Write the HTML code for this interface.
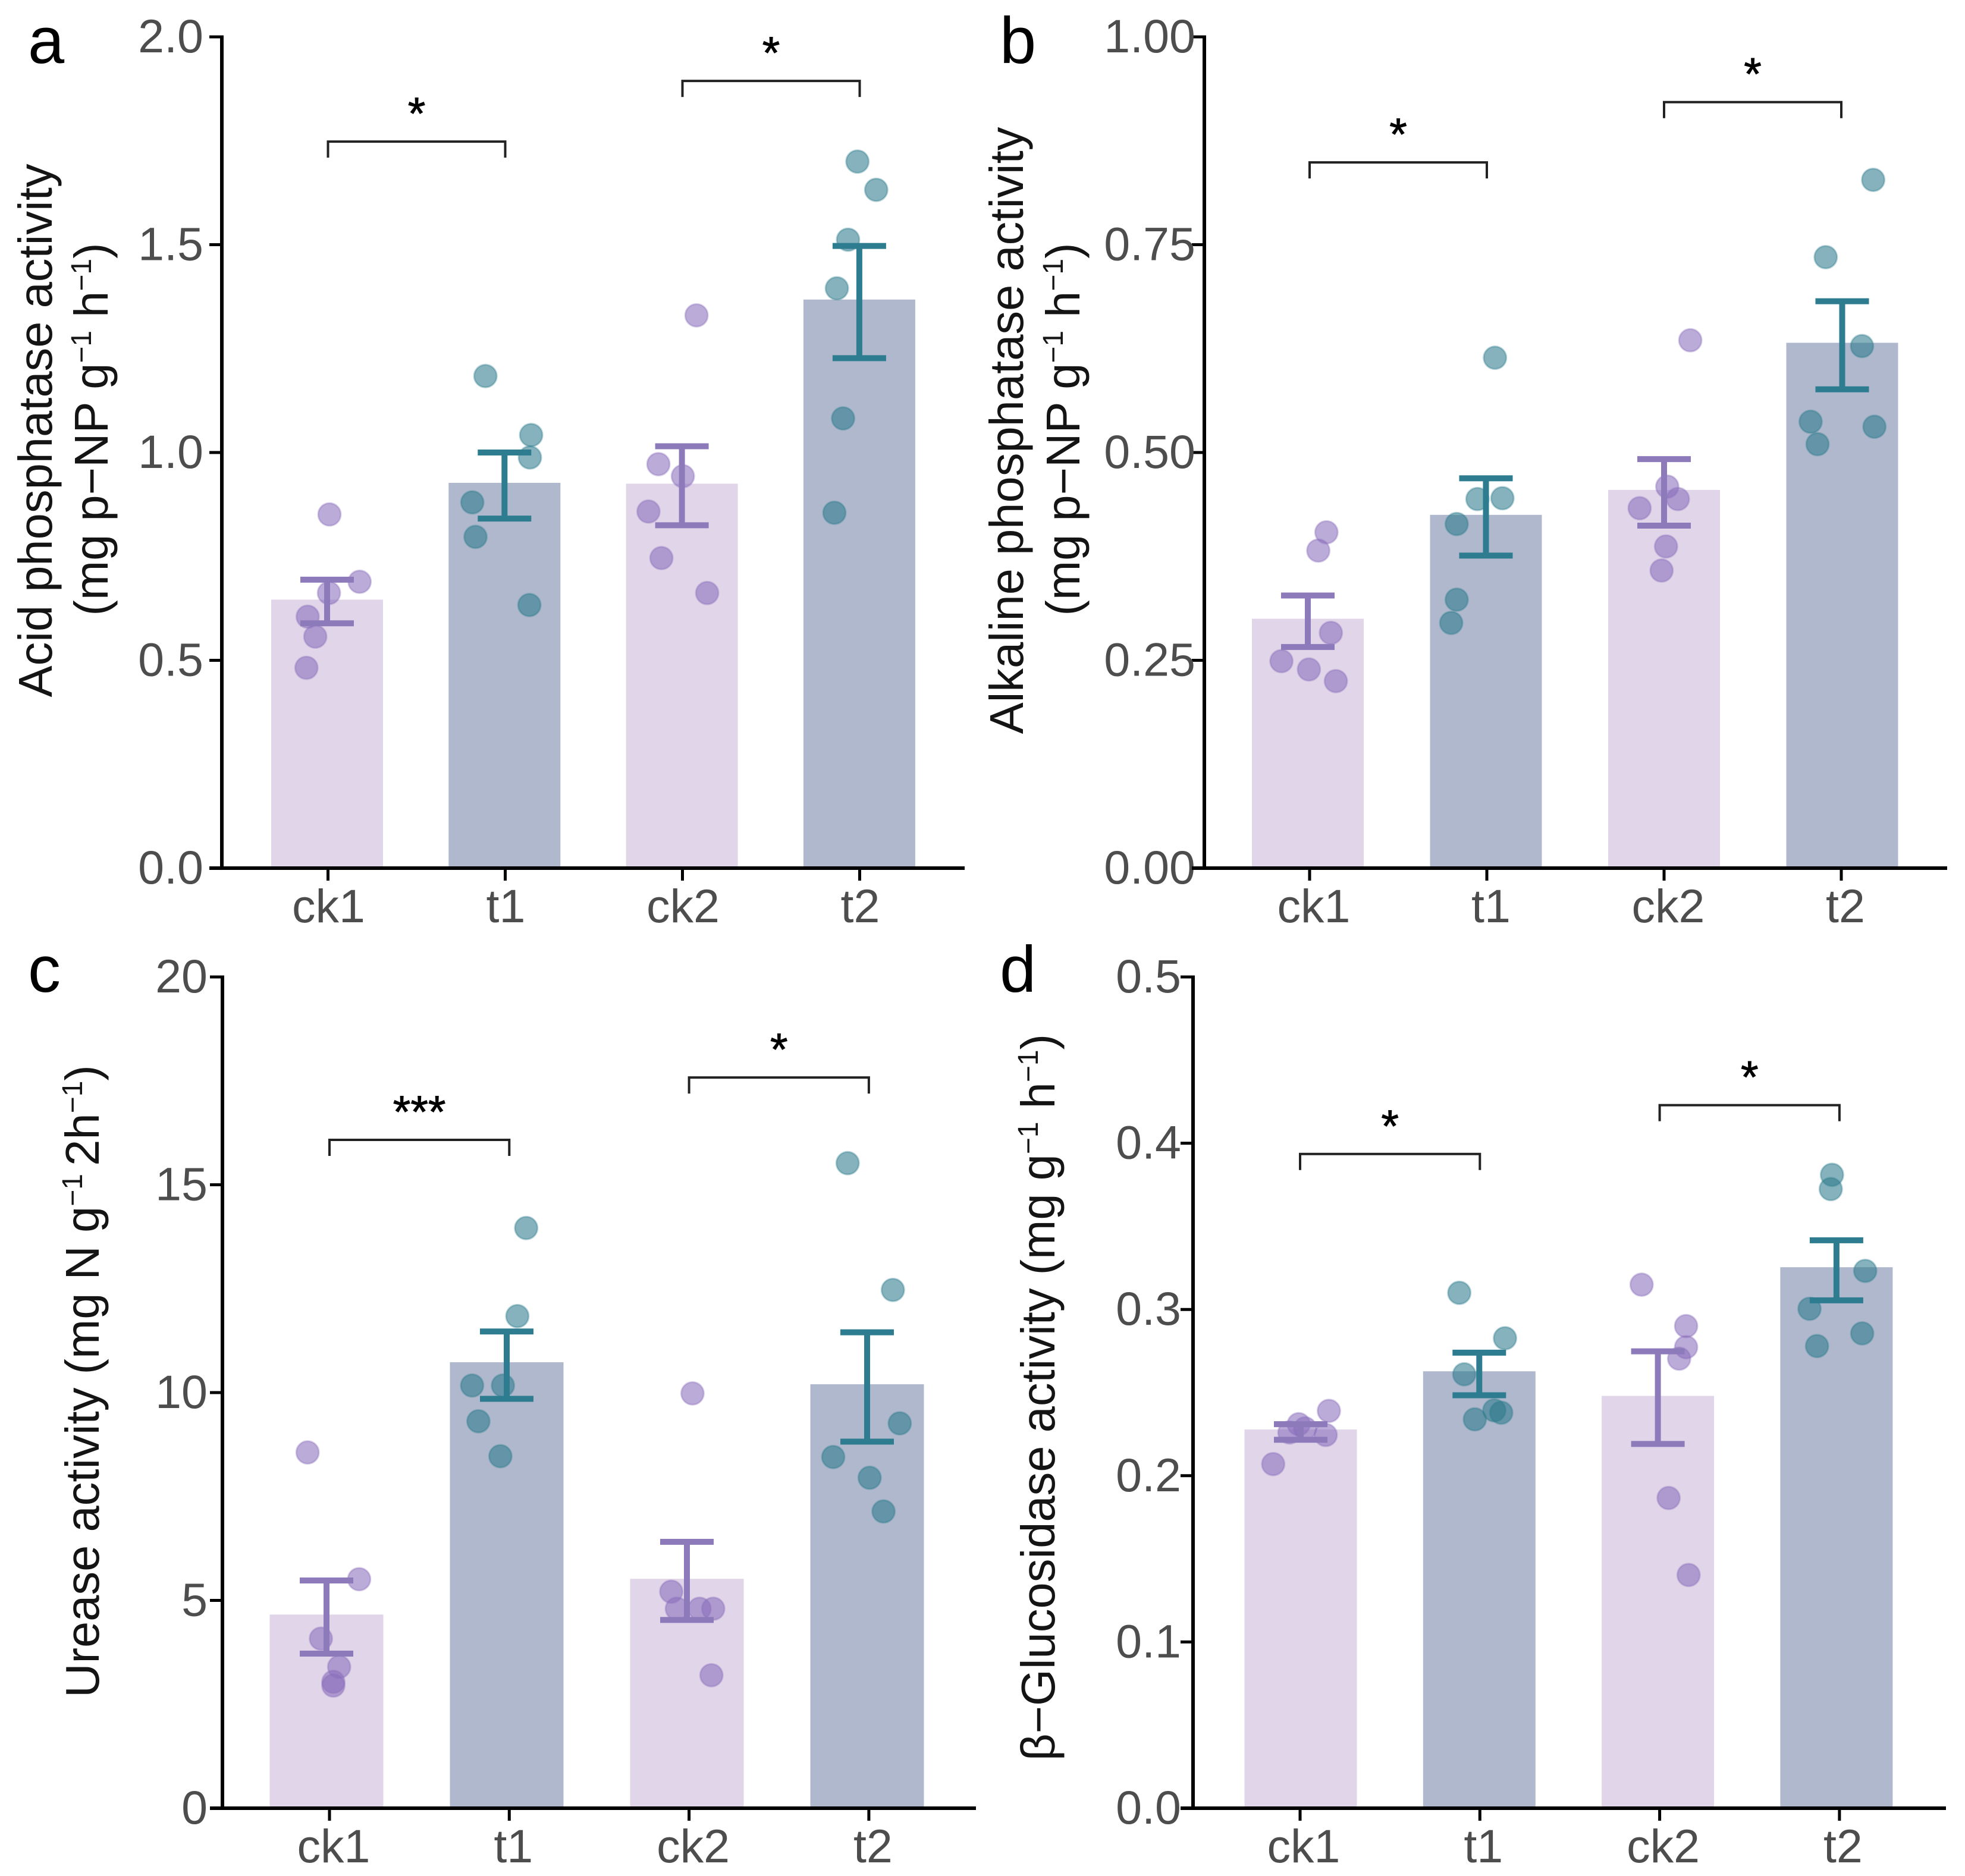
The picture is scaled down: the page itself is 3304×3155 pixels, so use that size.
<!DOCTYPE html>
<html lang="en">
<head>
<meta charset="utf-8">
<title>Soil enzyme activity bar charts</title>
<style>
html,body{margin:0;padding:0;background:#fff;}
svg{display:block;font-family:"Liberation Sans",sans-serif;}
.ytitle{font-size:79.5px;fill:#141414;text-anchor:middle;}
.plabel{font-size:110px;fill:#000;}
.tick{font-size:79px;fill:#4d4d4d;}
.star{font-size:76px;fill:#000;stroke:#000;stroke-width:1px;text-anchor:middle;}
</style>
</head>
<body>
<svg id="figure" xmlns="http://www.w3.org/2000/svg" width="3304" height="3155" viewBox="0 0 3304 3155">
<rect x="0" y="0" width="3304" height="3155" fill="#fff"/>
<g id="plots"></g>

<text class="plabel" x="47" y="106">a</text>
<text class="plabel" x="1681" y="106">b</text>
<text class="plabel" x="47" y="1668">c</text>
<text class="plabel" x="1681" y="1668">d</text>

<text class="ytitle" transform="translate(87 724) rotate(-90)">Acid phosphatase activity</text>
<text class="ytitle" transform="translate(181 722) rotate(-90)">(mg p−NP g<tspan font-size="48" dy="-28">−1</tspan><tspan dy="28"> h</tspan><tspan font-size="48" dy="-28">−1</tspan><tspan dy="28">)</tspan></text>
<text class="ytitle" transform="translate(1720 724) rotate(-90)">Alkaline phosphatase activity</text>
<text class="ytitle" transform="translate(1815 722) rotate(-90)">(mg p−NP g<tspan font-size="48" dy="-28">−1</tspan><tspan dy="28"> h</tspan><tspan font-size="48" dy="-28">−1</tspan><tspan dy="28">)</tspan></text>
<text class="ytitle" transform="translate(166 2323) rotate(-90)">Urease activity (mg N g<tspan font-size="48" dy="-28">−1 </tspan><tspan dy="28">2h</tspan><tspan font-size="48" dy="-28">−1</tspan><tspan dy="28">)</tspan></text>
<text class="ytitle" transform="translate(1773 2350) rotate(-90)">β−Glucosidase activity (mg g<tspan font-size="48" dy="-28">−1</tspan><tspan dy="28"> h</tspan><tspan font-size="48" dy="-28">−1</tspan><tspan dy="28">)</tspan></text>
</svg>

<script>
// ---------- shared categories ----------
const categories = ['ck1', 't1', 'ck2', 't2'];

// ---------- panel a: acid phosphatase ----------
const aTickLabels = ['0.0', '0.5', '1.0', '1.5', '2.0'];
const aMeans = [0.646, 0.927, 0.925, 1.368];
const aErrHigh = [0.694, 1.000, 1.015, 1.497];
const aErrLow = [0.589, 0.841, 0.825, 1.227];
const aPoints = [
  [0.851, 0.689, 0.662, 0.605, 0.557, 0.482],
  [1.184, 1.042, 0.988, 0.880, 0.797, 0.633],
  [1.330, 0.972, 0.943, 0.858, 0.746, 0.662],
  [1.700, 1.632, 1.512, 1.395, 1.082, 0.855]
];
const aJitter = [
  [0.010, 0.180, 0.007, -0.113, -0.070, -0.120],
  [-0.110, 0.148, 0.141, -0.184, -0.166, 0.138],
  [0.081, -0.134, 0.004, -0.190, -0.117, 0.141],
  [-0.011, 0.095, -0.064, -0.127, -0.092, -0.141]
];
const aBrackets = [1.748, 1.894];
const aStars = ['*', '*'];

// ---------- panel b: alkaline phosphatase ----------
const bTickLabels = ['0.00', '0.25', '0.50', '0.75', '1.00'];
const bMeans = [0.300, 0.425, 0.455, 0.632];
const bErrHigh = [0.328, 0.469, 0.492, 0.682];
const bErrLow = [0.266, 0.376, 0.412, 0.576];
const bPoints = [
  [0.404, 0.382, 0.283, 0.249, 0.239, 0.225],
  [0.614, 0.444, 0.445, 0.414, 0.323, 0.295],
  [0.635, 0.459, 0.444, 0.433, 0.387, 0.358],
  [0.828, 0.735, 0.628, 0.537, 0.531, 0.510]
];
const bJitter = [
  [0.095, 0.049, 0.120, -0.159, -0.004, 0.148],
  [0.046, -0.053, 0.088, -0.170, -0.170, -0.201],
  [0.148, 0.018, 0.078, -0.138, 0.011, -0.014],
  [0.180, -0.088, 0.117, -0.173, 0.187, -0.134]
];
const bBrackets = [0.849, 0.9215];
const bStars = ['*', '*'];

// ---------- panel c: urease ----------
const cTickLabels = ['0', '5', '10', '15', '20'];
const cMeans = [4.66, 10.73, 5.52, 10.20];
const cErrHigh = [5.48, 11.47, 6.41, 11.45];
const cErrLow = [3.72, 9.85, 4.53, 8.82];
const cPoints = [
  [8.56, 5.51, 4.08, 3.40, 3.04, 2.95],
  [13.96, 11.84, 10.17, 10.17, 9.31, 8.47],
  [9.98, 5.21, 4.80, 4.80, 4.80, 3.20],
  [15.52, 12.47, 9.26, 8.45, 7.95, 7.14]
];
const cJitter = [
  [-0.105, 0.181, -0.031, 0.070, 0.038, 0.038],
  [0.108, 0.059, -0.192, -0.021, -0.157, -0.035],
  [0.031, -0.087, -0.056, 0.070, 0.146, 0.136],
  [-0.108, 0.143, 0.181, -0.188, 0.014, 0.091]
];
const cBrackets = [16.08, 17.58];
const cStars = ['***', '*'];

// ---------- panel d: beta-glucosidase ----------
const dTickLabels = ['0.0', '0.1', '0.2', '0.3', '0.4', '0.5'];
const dMeans = [0.2278, 0.2628, 0.2480, 0.3254];
const dErrHigh = [0.2310, 0.2740, 0.2748, 0.3416];
const dErrLow = [0.2216, 0.2484, 0.2191, 0.3055];
const dPoints = [
  [0.2390, 0.2310, 0.2285, 0.2260, 0.2245, 0.2070],
  [0.3100, 0.2827, 0.2610, 0.2393, 0.2379, 0.2339],
  [0.3149, 0.2900, 0.2773, 0.2704, 0.1866, 0.1403],
  [0.3810, 0.3724, 0.3232, 0.3004, 0.2856, 0.2780]
];
const dJitter = [
  [0.158, -0.011, 0.025, -0.063, 0.140, -0.154],
  [-0.112, 0.144, -0.084, 0.084, 0.123, -0.025],
  [-0.091, 0.158, 0.158, 0.119, 0.060, 0.172],
  [-0.025, -0.032, 0.161, -0.151, 0.144, -0.109]
];
const dBrackets = [0.3935, 0.4229];
const dStars = ['*', '*'];

// ---------- panel layout ----------
const panels = [
  {id:'a', axisX:373, top:62, bottom:1460, right:1622, tick0:551.5, tickStep:298, bar0:550, barStep:298.3, barW:188,
   dot0:551, dotStep:298, yMax:2, yTicks:aTickLabels, labelGap:31, catDx:1,
   means:aMeans, hi:aErrHigh, lo:aErrLow, pts:aPoints, jit:aJitter, brackets:aBrackets, stars:aStars},
  {id:'b', axisX:2025, top:62, bottom:1460, right:3274, tick0:2202, tickStep:298, bar0:2199, barStep:299.5, barW:188,
   dot0:2202, dotStep:298, yMax:1, yTicks:bTickLabels, labelGap:15, catDx:7,
   means:bMeans, hi:bErrHigh, lo:bErrLow, pts:bPoints, jit:bJitter, brackets:bBrackets, stars:bStars},
  {id:'c', axisX:374, top:1643, bottom:3041, right:1641, tick0:554, tickStep:302.3, bar0:549, barStep:303, barW:191,
   dot0:549, dotStep:303, yMax:20, yTicks:cTickLabels, labelGap:25, catDx:7,
   means:cMeans, hi:cErrHigh, lo:cErrLow, pts:cPoints, jit:cJitter, brackets:cBrackets, stars:cStars},
  {id:'d', axisX:2006, top:1643, bottom:3041, right:3272, tick0:2186, tickStep:302.3, bar0:2187, barStep:300.3, barW:189,
   dot0:2187, dotStep:300.3, yMax:0.5, yTicks:dTickLabels, labelGap:20, catDx:6,
   means:dMeans, hi:dErrHigh, lo:dErrLow, pts:dPoints, jit:dJitter, brackets:dBrackets, stars:dStars}
];

const NS = 'http://www.w3.org/2000/svg';
const barColors = ['#e1d6e9', '#afb8cc'];
const errColors = ['#8d7aba', '#2e7c90'];
const dotColors = ['#8a6ebb', '#2c7a8c'];
const AXIS_W = 6;
const TICK_W = 5;

function make(parent, tag, attrs) {
  const n = document.createElementNS(NS, tag);
  for (const k in attrs) n.setAttribute(k, attrs[k]);
  parent.appendChild(n);
  return n;
}

const root = document.getElementById('plots');

panels.forEach(function (p) {
  const yScale = function (v) { return p.bottom - (v / p.yMax) * (p.bottom - p.top); };
  const xTick = function (i) { return p.tick0 + i * p.tickStep; };
  const xBar = function (i) { return p.bar0 + i * p.barStep; };
  const xDot = function (i, j) { return p.dot0 + i * p.dotStep + j * p.dotStep; };

  const g = make(root, 'g', {});
  
  

  // bars
  categories.forEach(function (cat, i) {
    const el = make(g, 'rect', {x: xBar(i) - p.barW / 2, y: yScale(p.means[i]), width: p.barW, height: p.bottom - yScale(p.means[i]), fill: barColors[i % 2]});
    
    
  });

  // jittered points
  categories.forEach(function (cat, i) {
    p.pts[i].forEach(function (v, k) {
      const el = make(g, 'circle', {cx: xDot(i, p.jit[i][k]), cy: yScale(v), r: 19, fill: dotColors[i % 2], 'fill-opacity': 0.58, stroke: dotColors[i % 2], 'stroke-opacity': 0.35, 'stroke-width': 3});
      
      
    });
  });

  // error bars
  categories.forEach(function (cat, i) {
    const cx = xBar(i);
    const yh = yScale(p.hi[i]);
    const yl = yScale(p.lo[i]);
    const eg = make(g, 'g', {stroke: errColors[i % 2], 'stroke-width': 10, fill: 'none'});
    
    
    make(eg, 'line', {x1: cx, x2: cx, y1: yh, y2: yl});
    make(eg, 'line', {x1: cx - 45, x2: cx + 45, y1: yh, y2: yh});
    make(eg, 'line', {x1: cx - 45, x2: cx + 45, y1: yl, y2: yl});
  });

  // y axis and ticks
  const yAxis = make(g, 'line', {x1: p.axisX, x2: p.axisX, y1: p.top - TICK_W / 2, y2: p.bottom + AXIS_W / 2, stroke: '#000', 'stroke-width': AXIS_W});
  
  
  p.yTicks.forEach(function (lab) {
    const y = yScale(parseFloat(lab));
    const tk = make(g, 'line', {x1: p.axisX - 21, x2: p.axisX, y1: y, y2: y, stroke: '#000', 'stroke-width': TICK_W});
    
    
    const t = make(g, 'text', {x: p.axisX - p.labelGap, y: y + 26, 'text-anchor': 'end', class: 'tick'});
    t.textContent = lab;
    
    
  });

  // x axis and ticks
  const xAxis = make(g, 'line', {x1: p.axisX - 21, x2: p.right, y1: p.bottom, y2: p.bottom, stroke: '#000', 'stroke-width': AXIS_W});
  
  
  categories.forEach(function (cat, i) {
    const x = xTick(i);
    const tk = make(g, 'line', {x1: x, x2: x, y1: p.bottom, y2: p.bottom + 21, stroke: '#000', 'stroke-width': TICK_W});
    
    
    const t = make(g, 'text', {x: x + p.catDx, y: p.bottom + 91, 'text-anchor': 'middle', class: 'tick'});
    t.textContent = cat;
    
    
  });

  // significance brackets
  p.brackets.forEach(function (v, b) {
    const x1 = xTick(b * 2);
    const x2 = xTick(b * 2 + 1);
    const y = yScale(v);
    const br = make(g, 'path', {d: 'M' + x1 + ' ' + (y + 27) + 'V' + y + 'H' + x2 + 'V' + (y + 27), fill: 'none', stroke: '#222', 'stroke-width': 4});
    
    
    const st = make(g, 'text', {x: (x1 + x2) / 2, y: y - 21, class: 'star'});
    st.textContent = p.stars[b];
    
    
  });
});
</script>
</body>
</html>
